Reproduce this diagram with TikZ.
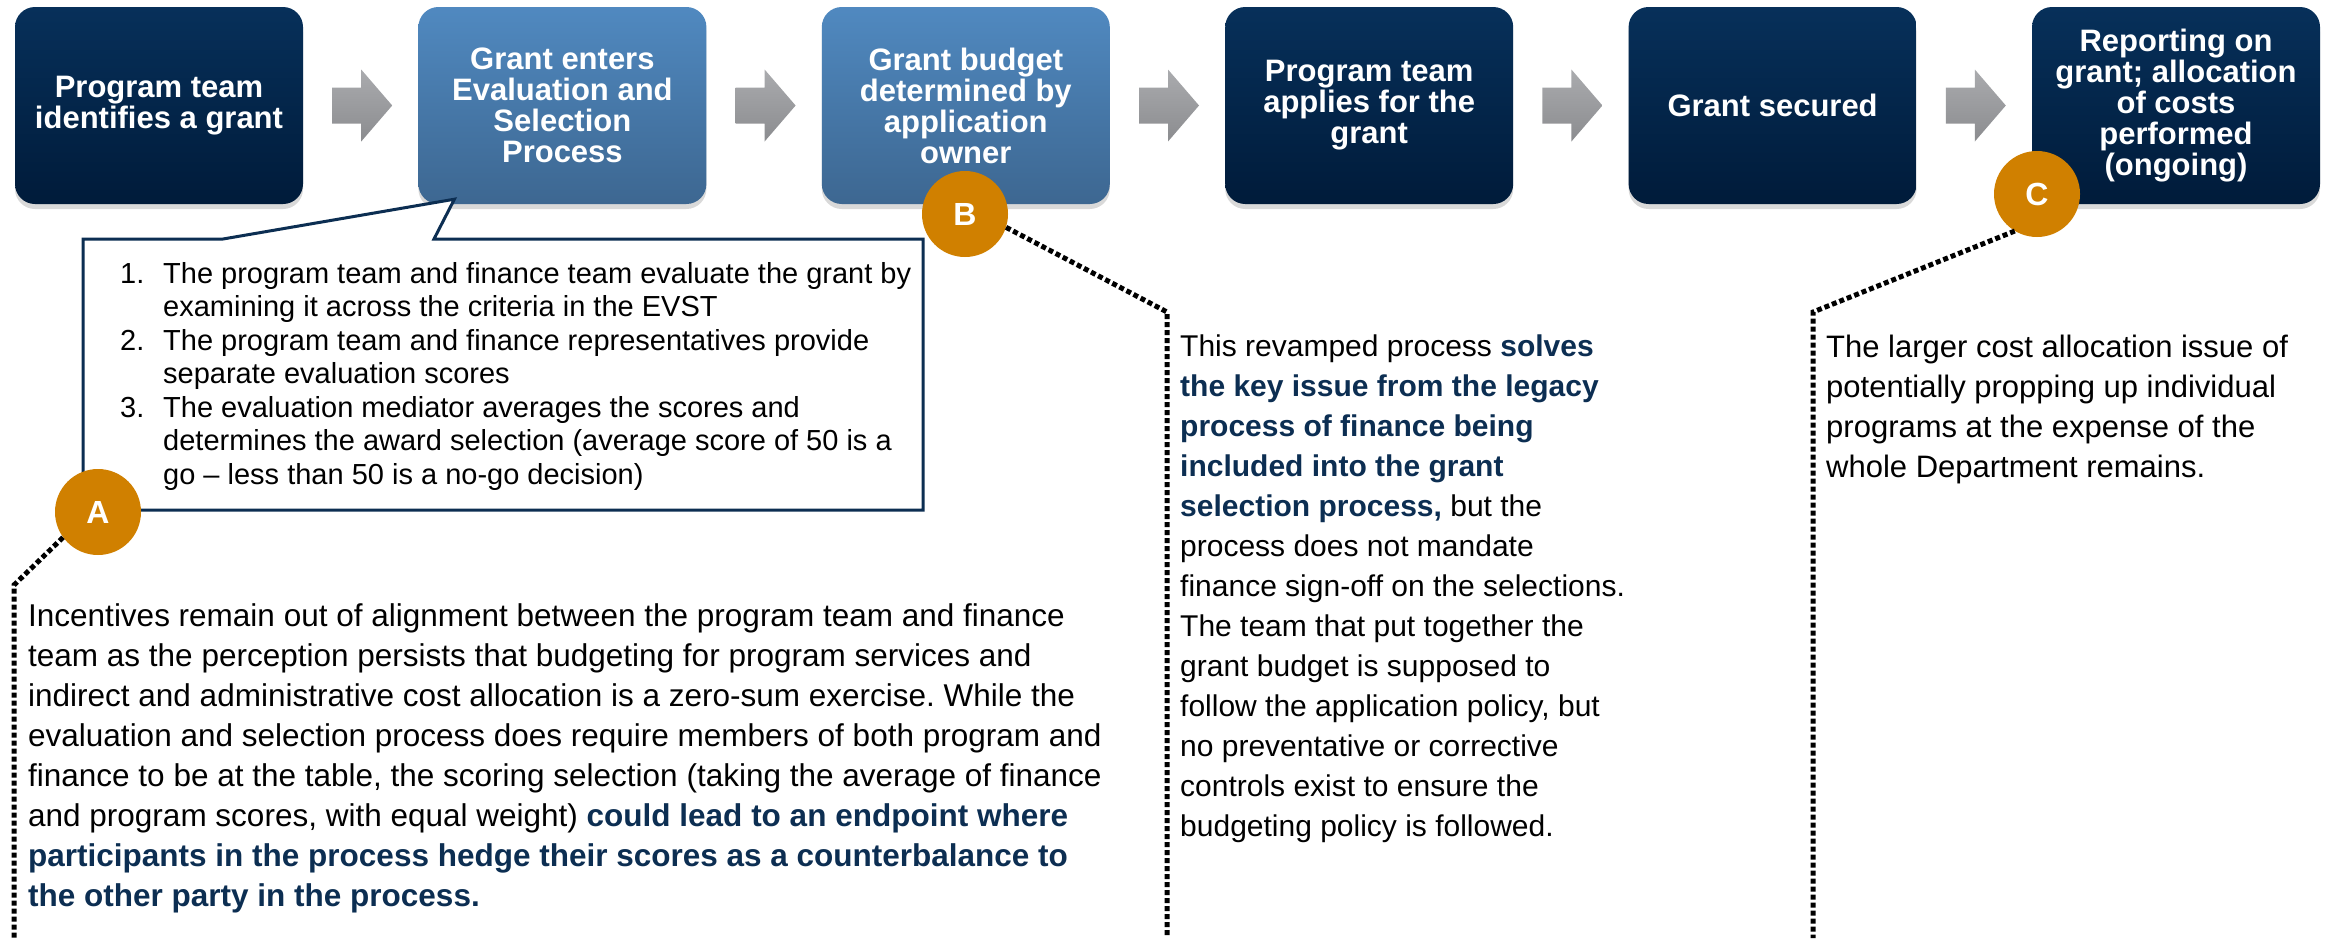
\documentclass[tikz,border=0pt]{standalone}
\usepackage{fontspec}
\setmainfont{Liberation Sans}
\usepackage{xcolor}
\usetikzlibrary{positioning, calc, shadows}
\frenchspacing

\definecolor{navytop}{HTML}{07305A}
\definecolor{navybot}{HTML}{001B3A}
\definecolor{bluetop}{HTML}{5089C0}
\definecolor{bluebot}{HTML}{3D6791}
\definecolor{markorange}{HTML}{D08000}
\definecolor{inknavy}{HTML}{0C2E52}
\definecolor{arrowtop}{HTML}{AAABAE}
\definecolor{arrowbot}{HTML}{8B8C8F}

\newcommand\keyphrase[1]{\textcolor{inknavy}{\bfseries #1}}
\newcommand\itemno[1]{\makebox[43pt][l]{#1}}

\begin{document}
\begin{tikzpicture}[
    x=1pt, y=-1pt,
    stepbox/.style={
        rectangle,
        rounded corners=20pt,
        minimum width=288pt,
        minimum height=197pt,
        align=center,
        text=white,
        font=\fontsize{31}{31}\selectfont\bfseries,
        drop shadow={shadow xshift=0pt, shadow yshift=-5pt, opacity=0.3}
    },
    darkbox/.style={stepbox, top color=navytop, bottom color=navybot},
    lightbox/.style={stepbox, top color=bluetop, bottom color=bluebot},
    blockarrow/.style={
        top color=arrowtop,
        bottom color=arrowbot
    },
    callout/.style={
        draw=inknavy,
        fill=white,
        line width=3pt
    },
    marker/.style={
        circle,
        fill=markorange,
        text=white,
        inner sep=0pt,
        minimum size=86pt,
        font=\fontsize{32}{32}\selectfont\bfseries
    },
    leader/.style={
        draw=black,
        line width=5pt,
        dash pattern=on 5pt off 3pt
    },
    note/.style={
        anchor=north west,
        inner sep=0pt,
        align=left
    },
    listtext/.style={
        anchor=north west,
        inner sep=0pt,
        align=left,
        font=\fontsize{29}{33.5}\selectfont
    }
]
\useasboundingbox (0,0) rectangle (2336,938);

% Etapes
\node[darkbox] (identify) at (159,105.5) {Program team\\identifies a grant};

\node[lightbox, right=115pt of identify] (evaluate) {Grant enters\\Evaluation and\\Selection\\Process};

\node[lightbox, right=115pt of evaluate] (budget) {Grant budget\\determined by\\application\\owner};

\node[darkbox, right=115pt of budget] (apply) {Program team\\applies for the\\grant};

\node[darkbox, right=115pt of apply] (secured) {Grant secured};

\node[darkbox, right=115pt of secured] (report) {Reporting on\\grant; allocation\\of costs\\performed\\(ongoing)};


% Fleches grises
\foreach \a/\b in {identify/evaluate, evaluate/budget, budget/apply, apply/secured, secured/report}
    \path[blockarrow]
        ($(\a.east)+(29,-18)$) -- ++(29,0) -- ++(0,-18) -- ++(31,36)
        -- ++(-31,36) -- ++(0,-18) -- ++(-29,0) -- cycle;


% Bulle de l'evaluation
\coordinate (callnw) at (83,239);
\coordinate (callse) at (923,510);
\coordinate (tip) at ($(evaluate.south)+(-108,-5)$);

\draw[callout]
    (callnw) -- ($(callnw)+(140,0)$) -- (tip) -- ($(callnw)+(351,0)$)
    -- (callnw -| callse) -- (callse) -- (callnw |- callse) -- cycle;

\node[listtext] (criteria) at (120,262) {%
    \itemno{1.}The program team and finance team evaluate the grant by\\
    \itemno{}examining it across the criteria in the EVST\\
    \itemno{2.}The program team and finance representatives provide\\
    \itemno{}separate evaluation scores\\
    \itemno{3.}The evaluation mediator averages the scores and\\
    \itemno{}determines the award selection (average score of 50 is a\\
    \itemno{}go -- less than 50 is a no-go decision)};


% Reperes
\node[marker] (markA) at (98,512) {A};
\node[marker] (markB) at (965,214) {B};
\node[marker] (markC) at (2037,194) {C};

\coordinate (bendA) at (14,585);
\coordinate (footA) at (14,938);
\coordinate (bendB) at (1167,312);
\coordinate (footB) at (1167,938);
\coordinate (bendC) at (1813,312);
\coordinate (footC) at (1813,938);

\draw[leader] (markA.216) -- (bendA) -- (footA);
\draw[leader] (markB.-18) -- (bendB) -- (footB);
\draw[leader] (markC.239) -- (bendC) -- (footC);


% Commentaires
\node[note, font=\fontsize{31.5}{40}\selectfont] (noteA) at (28,603) {%
    Incentives remain out of alignment between the program team and finance\\
    team as the perception persists that budgeting for program services and\\
    indirect and administrative cost allocation is a zero-sum exercise. While the\\
    evaluation and selection process does require members of both program and\\
    finance to be at the table, the scoring selection (taking the average of finance\\
    and program scores, with equal weight) \keyphrase{could lead to an endpoint where}\\
    \keyphrase{participants in the process hedge their scores as a counterbalance to}\\
    \keyphrase{the other party in the process.}};

\node[note, font=\fontsize{30}{40}\selectfont] (noteB) at (1180,335) {%
    This revamped process \keyphrase{solves}\\
    \keyphrase{the key issue from the legacy}\\
    \keyphrase{process of finance being}\\
    \keyphrase{included into the grant}\\
    \keyphrase{selection process,} but the\\
    process does not mandate\\
    finance sign-off on the selections.\\
    The team that put together the\\
    grant budget is supposed to\\
    follow the application policy, but\\
    no preventative or corrective\\
    controls exist to ensure the\\
    budgeting policy is followed.};

\node[note, font=\fontsize{31}{40}\selectfont] (noteC) at (1826,335) {%
    The larger cost allocation issue of\\
    potentially propping up individual\\
    programs at the expense of the\\
    whole Department remains.};

\end{tikzpicture}
\end{document}
